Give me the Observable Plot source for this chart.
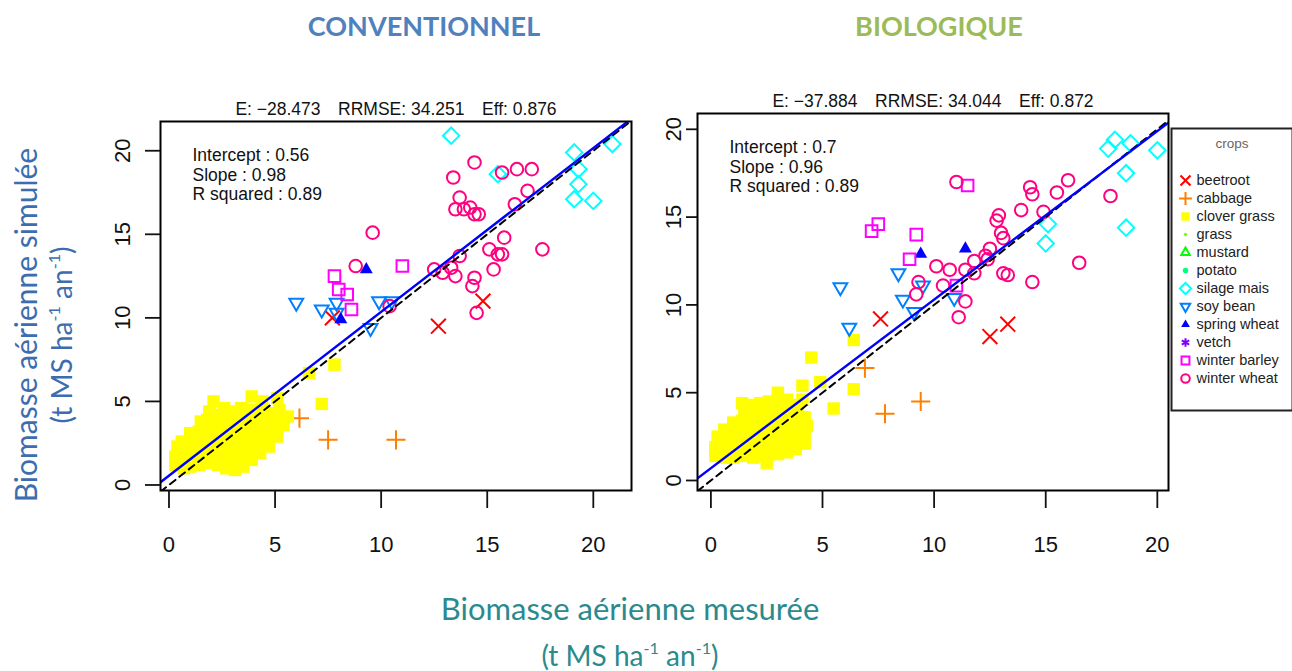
<!DOCTYPE html>
<html><head><meta charset="utf-8">
<script src="https://cdn.jsdelivr.net/npm/d3@7"></script>
<script src="https://cdn.jsdelivr.net/npm/@observablehq/plot@0.6"></script>
<style>
body{margin:0;background:#fff;}
#root{position:relative;width:1292px;height:671px;overflow:hidden;font-family:"Liberation Sans",Arial,sans-serif;}
.t{position:absolute;white-space:nowrap;transform:translate(-50%,-50%);}
.rot{transform:translate(-50%,-50%) rotate(-90deg);}
sup{font-size:58%;vertical-align:0.75em;line-height:0;}
svg{overflow:visible;}
</style></head><body><div id="root"></div>
<script>
// ---- categories & styles ----
const crops = ["beetroot","cabbage","clover grass","grass","mustard","potato","silage mais","soy bean","spring wheat","vetch","winter barley","winter wheat"];
const cropColors = ["#FF0000","#FF8000","#FFFF00","#80FF00","#00FF00","#00FF80","#00FFFF","#0080FF","#0000FF","#8000FF","#FF00FF","#FF0080"];
const cropSymbols = ["times","plus","square","circle","triangle2","circle","diamond2","triangle2","triangle","asterisk","square2","circle"];
const cropFilled = [false,false,true,true,false,true,false,false,true,false,false,false];
const cropRotate = [0,0,0,0,0,0,0,180,0,0,0,0];
const cropR = [6.8,6.2,7,2.5,6,4,7.4,6.6,4.8,6,7.4,6.3];
const axisTicks = [0,5,10,15,20];

// ---- CONVENTIONNEL data [measured, simulated] ----
const convBeetroot = [[7.7,10.0],[12.7,9.5],[14.8,11.0]];
const convCabbage = [[6.15,4.0],[7.5,2.7],[10.7,2.7]];
const convClover = [
[0.3,1.2],[0.3,1.7],[0.4,2.3],
[0.7,1.0],[0.6,1.5],[0.7,2.0],[0.6,2.6],
[1.0,1.1],[1.1,1.6],[1.0,2.1],[1.1,2.7],[1.0,3.1],
[1.4,1.2],[1.5,1.7],[1.4,2.2],[1.5,2.7],[1.4,3.2],[1.5,3.8],
[1.9,1.3],[1.8,1.8],[1.9,2.3],[1.8,2.8],[1.9,3.3],[1.8,3.9],[1.9,4.4],
[2.3,1.2],[2.2,1.7],[2.3,2.2],[2.2,2.7],[2.3,3.2],[2.2,3.7],[2.3,4.2],[2.1,5.0],
[2.7,1.0],[2.6,1.5],[2.7,2.0],[2.6,2.5],[2.7,3.0],[2.6,3.5],[2.7,4.0],[2.6,4.6],
[3.1,0.9],[3.0,1.4],[3.1,1.9],[3.0,2.4],[3.1,2.9],[3.0,3.4],[3.1,3.9],[3.0,4.4],
[3.5,1.1],[3.4,1.6],[3.5,2.1],[3.4,2.6],[3.5,3.1],[3.4,3.6],[3.5,4.1],[3.4,4.6],[3.9,5.3],
[3.9,1.5],[3.8,2.0],[3.9,2.5],[3.8,3.0],[3.9,3.5],[3.8,4.0],[3.9,4.5],
[4.3,1.9],[4.2,2.4],[4.3,2.9],[4.2,3.4],[4.3,3.9],[4.2,4.4],[4.4,5.0],
[4.7,2.3],[4.6,2.8],[4.7,3.3],[4.6,3.8],[4.7,4.3],[5.1,5.2],
[5.1,2.9],[5.0,3.4],[5.1,4.0],[5.2,4.5],
[5.4,3.6],[5.6,4.1],
[6.6,6.7],[7.2,4.85],[7.8,7.2]];
const convSilage = [[13.3,20.9],[15.5,18.6],[19.1,19.9],[19.3,18.9],[19.3,18.0],[19.1,17.1],[20.0,17.0],[20.9,20.4]];
const convSoy = [[6.0,10.9],[7.2,10.5],[7.9,10.9],[7.9,10.3],[9.9,11.0],[10.5,11.0],[9.5,9.4]];
const convSpring = [[9.3,12.9],[8.1,9.9]];
const convBarley = [[7.8,12.5],[8.0,11.7],[8.4,11.4],[8.6,10.5],[11.0,13.1]];
const convWheat = [[14.4,19.3],[13.4,18.4],[15.7,18.7],[16.4,18.9],[17.1,18.9],[16.9,17.6],[13.7,17.2],[13.5,16.5],[13.9,16.5],[14.2,16.6],[14.4,16.2],[14.6,16.2],[16.3,16.8],[15.8,14.8],[15.1,14.1],[15.5,13.8],[15.7,13.8],[17.6,14.1],[13.7,13.7],[12.5,12.9],[12.9,12.7],[13.3,13.0],[13.5,12.5],[14.4,12.4],[14.3,11.9],[15.3,12.9],[14.5,10.3],[9.6,15.1],[8.8,13.1],[10.4,10.7]];
const convFit = [0.56, 0.98, 0.89];          // intercept, slope, R squared
const convScores = ["−28.473","34.251","0.876"]; // E, RRMSE, Eff

// ---- BIOLOGIQUE data ----
const bioBeetroot = [[7.6,9.2],[12.5,8.2],[13.3,8.9]];
const bioCabbage = [[6.9,6.4],[7.8,3.8],[9.4,4.5]];
const bioClover = [
[0.2,1.4],[0.2,1.9],[0.3,2.5],
[0.6,1.3],[0.6,1.8],[0.7,2.3],[0.6,2.9],
[1.0,1.3],[1.1,1.8],[1.0,2.3],[1.1,2.8],[1.0,3.3],
[1.4,1.4],[1.5,1.9],[1.4,2.4],[1.5,2.9],[1.4,3.4],[1.5,3.9],[1.4,4.4],
[1.9,1.3],[1.8,1.8],[1.9,2.3],[1.8,2.8],[1.9,3.3],[1.8,3.8],[1.9,4.3],
[2.2,1.4],[2.3,1.9],[2.2,2.4],[2.3,2.9],[2.2,3.4],[2.3,3.9],[2.2,4.4],
[2.6,1.5],[2.7,2.0],[2.6,2.5],[2.7,3.0],[2.6,3.5],[2.7,4.0],[2.6,4.5],
[3.0,1.5],[3.1,2.0],[3.0,2.5],[3.1,3.0],[3.0,3.5],[3.1,4.0],[3.0,4.6],[3.0,5.0],
[3.4,1.6],[3.5,2.1],[3.4,2.6],[3.5,3.1],[3.4,3.6],[3.5,4.1],[3.4,4.6],
[3.8,1.8],[3.9,2.3],[3.8,2.8],[3.9,3.3],[3.8,3.8],[3.9,4.3],
[4.2,2.1],[4.2,2.6],[4.3,3.1],[4.2,3.6],[4.1,4.6],
[2.5,1.0],[4.1,5.4],[4.9,5.6],[5.5,4.1],[6.4,5.2],[4.5,7.0],[6.4,8.0]];
const bioSilage = [[17.8,18.9],[18.1,19.4],[18.8,19.2],[20.0,18.8],[18.6,17.5],[15.1,14.6],[15.0,13.5],[18.6,14.4]];
const bioSoy = [[5.8,11.0],[8.4,11.8],[8.6,10.3],[9.1,9.6],[9.5,11.1],[10.9,10.4],[6.2,8.7]];
const bioSpring = [[9.4,12.9],[11.4,13.2]];
const bioBarley = [[7.2,14.2],[7.5,14.6],[9.2,14.0],[8.9,12.6],[11.0,11.1],[11.5,16.8]];
const bioWheat = [[11.0,17.0],[14.3,16.7],[14.4,16.3],[16.0,17.1],[15.5,16.4],[17.9,16.2],[13.9,15.4],[14.9,15.3],[12.9,15.1],[12.8,14.8],[13.0,14.1],[13.1,13.8],[12.5,13.2],[12.3,12.8],[11.8,12.5],[11.4,12.0],[10.7,12.0],[10.1,12.2],[11.8,11.8],[10.4,11.1],[9.3,11.3],[9.2,10.6],[11.4,10.2],[11.1,9.3],[13.1,11.8],[13.3,11.7],[14.4,11.3],[16.5,12.4],[12.4,12.6]];
const bioFit = [0.7, 0.96, 0.89];
const bioScores = ["−37.884","34.044","0.872"];

const none = [];
const convSeries = [convBeetroot,convCabbage,convClover,none,none,none,convSilage,convSoy,convSpring,none,convBarley,convWheat];
const bioSeries = [bioBeetroot,bioCabbage,bioClover,none,none,none,bioSilage,bioSoy,bioSpring,none,bioBarley,bioWheat];

const root = document.getElementById("root");
const FONT = "'Liberation Sans', Arial, sans-serif";

function makePanel(series, fit, scores, frame, xd, yd, labelGap, yTickLen) {
  const mL = 80, mT = 40, mR = 12, mB = 80;
  const fw = frame[2]-frame[0], fh = frame[3]-frame[1];
  const marks = [];
  series.forEach((pts,i)=>{
    if(!pts.length) return;
    const filled = cropFilled[i];
    marks.push(Plot.dot(pts,{x:d=>d[0],y:d=>d[1],symbol:cropSymbols[i],r:cropR[i],
      fill: filled?cropColors[i]:"none", stroke: filled?"none":cropColors[i], strokeWidth:2, rotate:cropRotate[i]}));
  });
  const [a,b,r2] = fit;
  const x0 = xd[0], x1 = xd[1];
  marks.push(Plot.line([[x0,x0],[x1,x1]],{x:d=>d[0],y:d=>d[1],stroke:"#000",strokeWidth:2,strokeDasharray:"7,5",clip:true}));
  marks.push(Plot.line([[x0,a+b*x0],[x1,a+b*x1]],{x:d=>d[0],y:d=>d[1],stroke:"#0000FF",strokeWidth:2.4,clip:true}));
  marks.push(Plot.frame({stroke:"#000",strokeWidth:2}));
  marks.push(Plot.axisX({ticks:axisTicks,tickSize:18,tickPadding:28,fontSize:22,label:null,strokeWidth:1.8}));
  marks.push(Plot.axisY({ticks:axisTicks,tickSize:yTickLen,tickFormat:()=>"",label:null,strokeWidth:1.8}));
  marks.push(Plot.text(axisTicks,{y:d=>d,frameAnchor:"left",dx:-labelGap,rotate:-90,text:d=>String(d),fontSize:22,textAnchor:"middle",lineAnchor:"middle",fill:"#111"}));
  const sp = "\u2003";
  marks.push(Plot.text([`E: ${scores[0]}${sp}RRMSE: ${scores[1]}${sp}Eff: ${scores[2]}`],{frameAnchor:"top",dy:-12,fontSize:17.5,lineAnchor:"middle",fill:"#111"}));
  const lines = [`Intercept : ${a}`,`Slope : ${b}`,`R squared : ${r2}`];
  lines.forEach((s,k)=>marks.push(Plot.text([s],{frameAnchor:"top-left",dx:32,dy:34+k*19.5,fontSize:17.5,textAnchor:"start",lineAnchor:"middle",fill:"#111"})));
  const svg = Plot.plot({width:mL+fw+mR,height:mT+fh+mB,marginLeft:mL,marginTop:mT,marginRight:mR,marginBottom:mB,
    x:{domain:xd},y:{domain:yd},style:{fontFamily:FONT,background:"transparent",color:"#111"},marks});
  svg.style.position="absolute";
  svg.style.left=(frame[0]-mL)+"px";
  svg.style.top=(frame[1]-mT)+"px";
  root.appendChild(svg);
}

makePanel(convSeries, convFit, convScores, [160,121,631,490], [-0.4,21.8], [-0.33,21.75], 38, 15);
makePanel(bioSeries, bioFit, bioScores, [697,113,1168,490], [-0.6,20.5], [-0.57,20.9], 24, 11);

// legend
const legend = Plot.plot({width:121,height:282,margin:0,
  x:{domain:[0,1],range:[14,110],axis:null},
  y:{type:"point",domain:crops,range:[40,262],axis:null},
  style:{fontFamily:FONT,background:"#fff"},
  marks:[
    Plot.frame({stroke:"#222",strokeWidth:2}),
    Plot.text(["crops"],{frameAnchor:"top",dy:15,fill:"#666",fontSize:13.5,lineAnchor:"middle"}),
    ...crops.map((c,i)=>Plot.dot([c],{x:()=>0,y:d=>d,symbol:cropSymbols[i],r:cropR[i]*0.68,
      fill:cropFilled[i]?cropColors[i]:"none",stroke:cropFilled[i]?"none":cropColors[i],strokeWidth:2,rotate:cropRotate[i]})),
    Plot.text(crops,{x:()=>0,y:d=>d,dx:11,textAnchor:"start",fontSize:14.5,fill:"#222"})
  ]});
legend.style.position="absolute";legend.style.left="1171px";legend.style.top="128px";
root.appendChild(legend);

// html titles
function addText(html, x, y, css, cls) {
  const d = document.createElement("div");
  d.className = "t" + (cls?(" "+cls):"");
  d.innerHTML = html;
  d.style.left = x+"px"; d.style.top = y+"px";
  Object.assign(d.style, css);
  root.appendChild(d);
}
addText("CONVENTIONNEL", 424, 25, {fontFamily:"Lato",fontWeight:"bold",fontSize:"27px",color:"#4F81BD"});
addText("BIOLOGIQUE", 939, 25, {fontFamily:"Lato",fontWeight:"bold",fontSize:"27px",color:"#9BBB59"});
addText("Biomasse aérienne simulée", 25, 325, {fontFamily:"Lato",fontSize:"30px",color:"#3D6CB0"}, "rot");
addText("(t MS ha<sup>-1</sup> an<sup>-1</sup>)", 61, 335, {fontFamily:"Lato",fontSize:"28px",color:"#3D6CB0"}, "rot");
addText("Biomasse aérienne mesurée", 630, 608, {fontFamily:"Lato",fontSize:"31px",color:"#2A8A8E"});
addText("(t MS ha<sup>-1</sup> an<sup>-1</sup>)", 630, 655, {fontFamily:"Lato",fontSize:"28px",color:"#2A8A8E"});
</script></body></html>
